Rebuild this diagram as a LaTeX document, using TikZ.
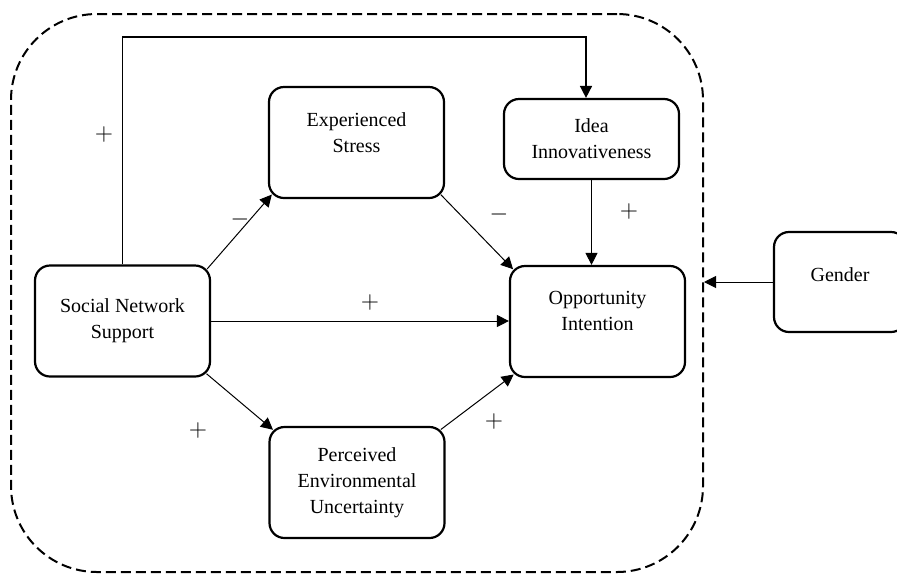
\documentclass[tikz,border=0pt]{standalone}
\usepackage{fontspec}
\setmainfont{Liberation Serif}
\usetikzlibrary{arrows.meta}
\usetikzlibrary{positioning}

\tikzset{
  varbox/.style={draw, line width=1.1pt, rounded corners=7.5pt, align=center,
    inner sep=0pt, minimum width=87.5pt, minimum height=55.5pt,
    font=\fontsize{10}{13}\selectfont},
  frame/.style={draw, line width=1pt, dash pattern=on 5pt off 2.5pt,
    rounded corners=43pt, inner sep=0pt, minimum width=346pt, minimum height=279pt},
  link/.style={line width=0.5pt, -{Triangle[length=6pt,width=6pt]}},
  corner/.style={shorten <=-3pt, shorten >=-3pt},
  sign/.style={inner sep=0pt, font=\fontsize{13}{15}\selectfont},
}

\begin{document}
\begin{tikzpicture}[x=0.5pt, y=-0.5pt]
\useasboundingbox (0,0) rectangle (897,574);

%moderated area
\node[frame] (frame) at (357,293) {};

%boxes
\node[varbox] (sns) at (122.5,321) {Social Network\\Support};
\node[varbox] (es) at (356.5,142.5) {Experienced\\Stress\\[-3pt]\mbox{}};
\node[varbox, minimum height=40pt] (ii) at (591.5,139) {Idea\\Innovativeness};
\node[varbox] (oi) at (597.5,321.5) {Opportunity\\Intention\\[-2pt]\mbox{}};
\node[varbox] (peu) at (357,482.5) {Perceived\\Environmental\\Uncertainty};
\node[varbox, minimum width=66pt, minimum height=50pt] (gen) at (840,282) {Gender\\[-6pt]\mbox{}};

%paths
\coordinate (bend) at (586,37);
\draw[link, line width=0.8pt] (sns.north) |- (bend) -- (bend |- ii.north);
\draw[link, corner] (sns.north east) -- (es.south west);
\draw[link, corner] (es.south east) -- (oi.north west);
\draw[link] (ii.south) -- (ii.south |- oi.north);
\draw[link] (sns.east) -- (sns.east -| oi.west);
\draw[link, corner] (sns.south east) -- (peu.north west);
\draw[link, corner] (peu.north east) -- (oi.south west);
\draw[link] (gen.west) -- (gen.west -| frame.east);

%signs
\node[sign] (s1) at (104,134) {$+$};
\node[sign] (s2) at (240,219) {$-$};
\node[sign] (s3) at (499,214) {$-$};
\node[sign] (s4) at (629,211) {$+$};
\node[sign] (s5) at (370,302) {$+$};
\node[sign] (s6) at (198,430) {$+$};
\node[sign] (s7) at (494,421) {$+$};

\end{tikzpicture}
\end{document}
